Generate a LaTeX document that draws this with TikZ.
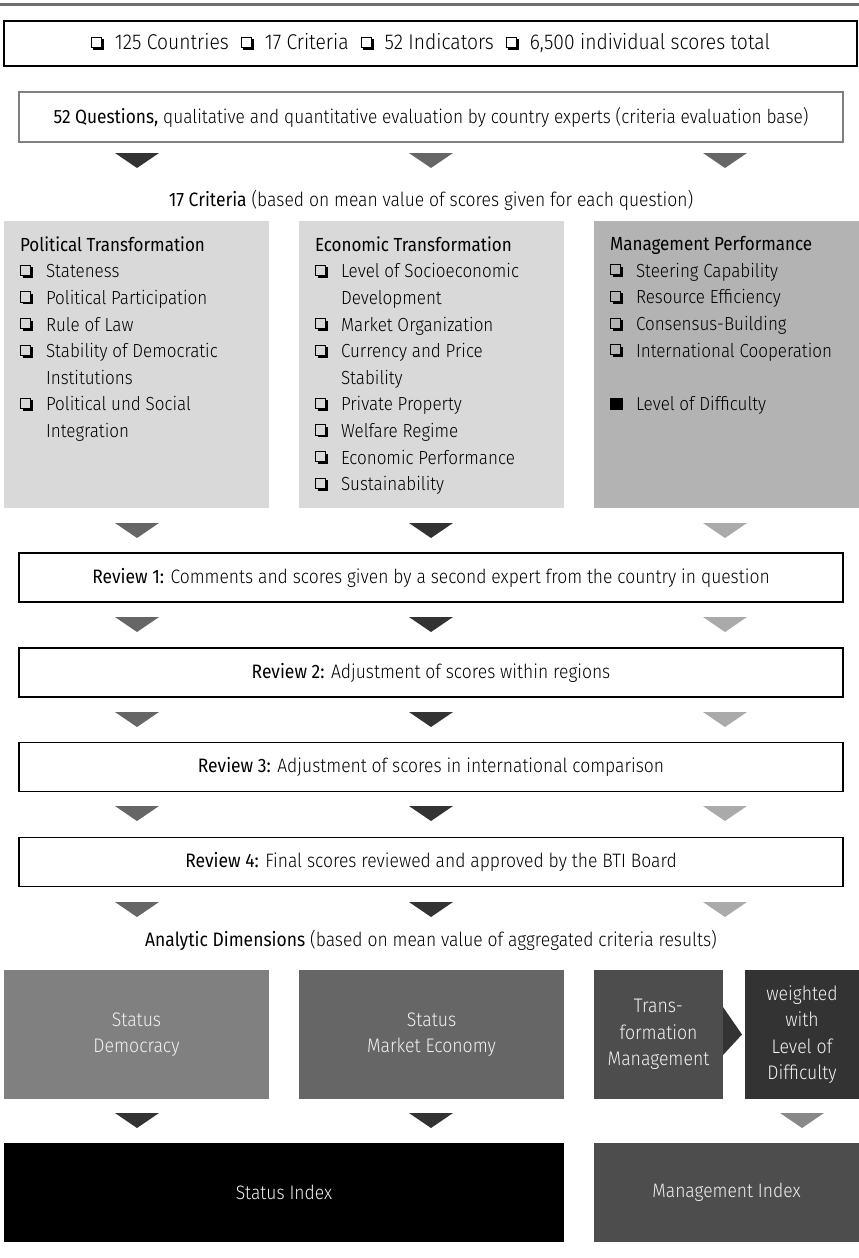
\documentclass[tikz,border=0pt]{standalone}
\usepackage{fontspec}
\setmainfont{Fira Sans Light}[BoldFont={Fira Sans}, FakeStretch=0.9]
\newcommand\chk{{\setlength{\unitlength}{1bp}\begin{picture}(13,13)
  \put(0,2){\rule{11bp}{0.9bp}}\put(0,12.1){\rule{11bp}{0.9bp}}
  \put(0,2){\rule{0.9bp}{11bp}}\put(10.1,2){\rule{0.9bp}{11bp}}
  \put(2.5,0){\rule{10.5bp}{2.6bp}}\put(10.4,0){\rule{2.6bp}{10.5bp}}
  \end{picture}}}
\newcommand\cbox{\makebox[26bp][l]{\chk}}
\newcommand\filledbox{\makebox[26bp][l]{\rule{12.5bp}{12.5bp}}}
\newcommand\ind{\hspace*{26bp}}
\definecolor{c33}{HTML}{333333}
\definecolor{c4d}{HTML}{4D4D4D}
\definecolor{c66}{HTML}{666666}
\definecolor{c6e}{HTML}{6E6E6E}
\definecolor{c80}{HTML}{808080}
\definecolor{c88}{HTML}{888888}
\definecolor{caa}{HTML}{AAAAAA}
\definecolor{cb3}{HTML}{B3B3B3}
\definecolor{cd9}{HTML}{D9D9D9}
\definecolor{ctx}{HTML}{F2F2F2}
\newcommand\mytri[3]{\fill[#3] (#1-22,#2) -- (#1+22,#2) -- (#1,#2+15) -- cycle;}
\begin{document}
\begin{tikzpicture}[x=1bp,y=-1bp,
  every node/.style={inner sep=0pt, outer sep=0pt},
  frame/.style={draw=black, line width=1.2bp, fill=white},
  lfont/.style={font=\fontsize{19}{26.7}\selectfont},
  mfont/.style={font=\fontsize{19.5}{22}\selectfont},
  critbox/.style={minimum width=265bp, minimum height=287bp},
  dimbox/.style={minimum height=129bp, text=ctx, align=center, font=\fontsize{19.7}{26.7}\selectfont},
  idxbox/.style={minimum height=99bp, text=ctx, font=\fontsize{19.5}{22}\selectfont},
  listtext/.style={anchor=north west, align=left, lfont}]
\useasboundingbox (0,0) rectangle (859,1258);
\fill[c6e] (0,3) rectangle (859,6);

\node[frame, minimum width=853bp, minimum height=45bp, font=\fontsize{21.5}{22}\selectfont] (top) at (430.5,43.5)
  {\chk\hspace{11bp}125 Countries\hspace{12bp}\chk\hspace{11bp}17 Criteria\hspace{12bp}\chk\hspace{11bp}52 Indicators\hspace{12bp}\chk\hspace{11bp}6,500 individual scores total};

\node[draw=c80, line width=1.2bp, fill=white, minimum width=824bp, minimum height=50bp, font=\fontsize{19.3}{22}\selectfont] (q) at (431,117)
  {\textbf{52 Questions,} qualitative and quantitative evaluation by country experts (criteria evaluation base)};

\mytri{137}{153}{c33}\mytri{431}{153}{c66}\mytri{725}{153}{c66}

\node[mfont] (crit) at (431,200) {\textbf{17 Criteria} (based on mean value of scores given for each question)};

\node[critbox, fill=cd9] (pt) at (136.5,364.5) {};
\node[critbox, fill=cd9] (et) at (431.5,364.5) {};
\node[critbox, fill=cb3] (mp) at (726.5,364.5) {};

\node[listtext] (ptl) at (20,236.5) {\textbf{Political Transformation}\\
 \cbox Stateness\\ \cbox Political Participation\\ \cbox Rule of Law\\
 \cbox Stability of Democratic\\ \ind Institutions\\ \cbox Political und Social\\ \ind Integration};
\node[listtext] (etl) at (315,236.5) {\textbf{Economic Transformation}\\
 \cbox Level of Socioeconomic\\ \ind Development\\ \cbox Market Organization\\
 \cbox Currency and Price\\ \ind Stability\\ \cbox Private Property\\ \cbox Welfare Regime\\
 \cbox Economic Performance\\ \cbox Sustainability};
\node[listtext] (mpl) at (610,236.5) {\textbf{Management Performance}\\
 \cbox Steering Capability\\ \cbox Resource Efficiency\\ \cbox Consensus-Building\\
 \cbox International Cooperation\\[26.7bp] \filledbox Level of Difficulty};

\mytri{137}{523}{c66}\mytri{431}{523}{c33}\mytri{725}{523}{caa}

\node[frame, minimum width=824bp, minimum height=49bp, mfont] (r1) at (431,577.5)
  {\textbf{Review 1:} Comments and scores given by a second expert from the country in question};
\mytri{137}{617}{c66}\mytri{431}{617}{c33}\mytri{725}{617}{caa}
\node[frame, minimum width=824bp, minimum height=49bp, mfont] (r2) at (431,672.5)
  {\textbf{Review 2:} Adjustment of scores within regions};
\mytri{137}{712}{c66}\mytri{431}{712}{c33}\mytri{725}{712}{caa}
\node[frame, minimum width=824bp, minimum height=49bp, mfont] (r3) at (431,767)
  {\textbf{Review 3:} Adjustment of scores in international comparison};
\mytri{137}{806}{c66}\mytri{431}{806}{c33}\mytri{725}{806}{caa}
\node[frame, minimum width=824bp, minimum height=49bp, mfont] (r4) at (431,862)
  {\textbf{Review 4:} Final scores reviewed and approved by the BTI Board};
\mytri{137}{902}{c66}\mytri{431}{902}{c33}\mytri{725}{902}{caa}

\node[mfont] (ad) at (431,940) {\textbf{Analytic Dimensions} (based on mean value of aggregated criteria results)};

\node[dimbox, fill=c80, minimum width=265bp] (sd) at (136.5,1034.5) {Status\\Democracy};
\node[dimbox, fill=c66, minimum width=265bp] (sm) at (431.5,1034.5) {Status\\Market Economy};
\node[dimbox, fill=c4d, minimum width=129bp] (tm) at (658.5,1034.5) {Trans-\\formation\\Management};
\node[dimbox, fill=c33, minimum width=114bp] (wd) at (802,1034.5) {weighted\\with\\Level of\\Difficulty};
\fill[c33] (tm.east |- 0,1007) -- (tm.east |- 0,1055) -- ([xshift=19bp]tm.east) -- cycle;

\mytri{137}{1113}{c33}\mytri{431}{1113}{c33}\mytri{802}{1113}{c88}

\node[idxbox, fill=black, minimum width=560bp] (si) at (284,1192.5) {Status Index};
\node[idxbox, fill=c4d, minimum width=265bp] (mi) at (726.5,1192.5) {Management Index};
\end{tikzpicture}
\end{document}
